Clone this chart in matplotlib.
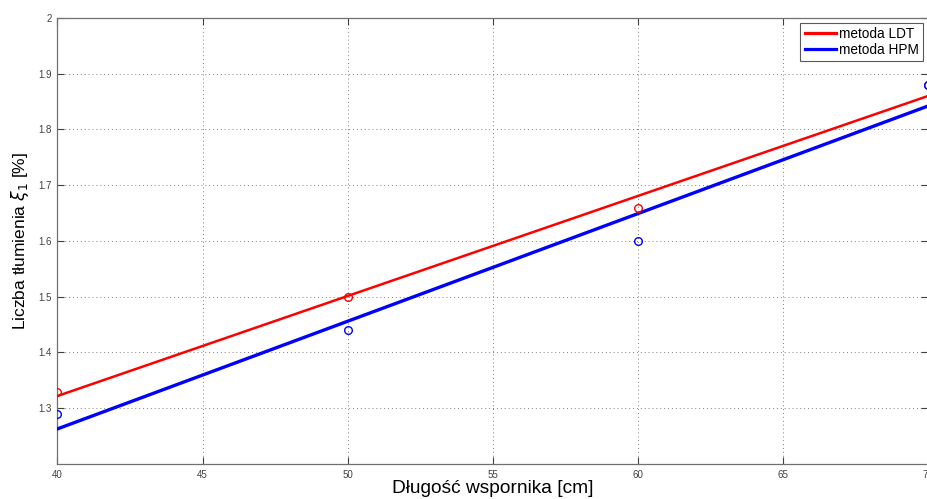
import matplotlib
matplotlib.use("Agg")
import matplotlib.pyplot as plt

# Measured points
x_pts = [40, 50, 60, 70]
ldt_pts = [1.33, 1.50, 1.66, 1.88]
hpm_pts = [1.29, 1.44, 1.60, 1.88]

# Trend lines (endpoints)
x_line = [40, 70]
ldt_line = [1.322, 1.860]
hpm_line = [1.263, 1.842]

x_ticks = [40, 45, 50, 55, 60, 65, 70]
y_ticks = [1.3, 1.4, 1.5, 1.6, 1.7, 1.8, 1.9, 2.0]
y_ticklabels = ["1.3", "1.4", "1.5", "1.6", "1.7", "1.8", "1.9", "2"]

plt.rcParams['font.family'] = ['Liberation Sans', 'DejaVu Sans']

fig = plt.figure(figsize=(9.28, 4.99), dpi=100)
ax = fig.add_axes([0.0619, 0.0701, 0.9381, 0.894])

ax.plot(x_line, ldt_line, color='#ff0000', lw=1.8, label='metoda LDT', zorder=3)
ax.plot(x_line, hpm_line, color='#0000ff', lw=2.4, label='metoda HPM', zorder=3)
ax.plot(x_pts, ldt_pts, 'o', mfc='none', mec='#ff0000', ms=5.5, mew=1.0, zorder=4)
ax.plot(x_pts, hpm_pts, 'o', mfc='none', mec='#0000ff', ms=5.5, mew=1.0, zorder=4)

ax.set_xlim(40, 70)
ax.set_ylim(1.2, 2.0)
ax.set_xticks(x_ticks)
ax.set_xticklabels([str(t) for t in x_ticks])
ax.set_yticks(y_ticks)
ax.set_yticklabels(y_ticklabels)
ax.tick_params(direction='in', length=5, width=0.8, labelsize=7, colors='#404040',
               top=True, right=True, pad=4)
ax.grid(True, linestyle=(0, (1, 3)), color='#808080', lw=0.7)
for s in ax.spines.values():
    s.set_color('#707070')
    s.set_linewidth(0.9)

ax.set_xlabel('Długość wspornika [cm]', fontsize=13.8, labelpad=0)
ax.set_ylabel(r'Liczba tłumienia $\xi_1$ [%]', fontsize=12.5, labelpad=5)

leg = ax.legend(loc='upper right', fontsize=9.8, frameon=True, fancybox=False,
                edgecolor='#303030', handlelength=2.3, borderpad=0.3,
                labelspacing=0.15, handletextpad=0.25, borderaxespad=0.35)
leg.get_frame().set_linewidth(0.8)
for h in leg.get_lines():
    h.set_linewidth(2.3)

fig.savefig('out.png', dpi=100)
